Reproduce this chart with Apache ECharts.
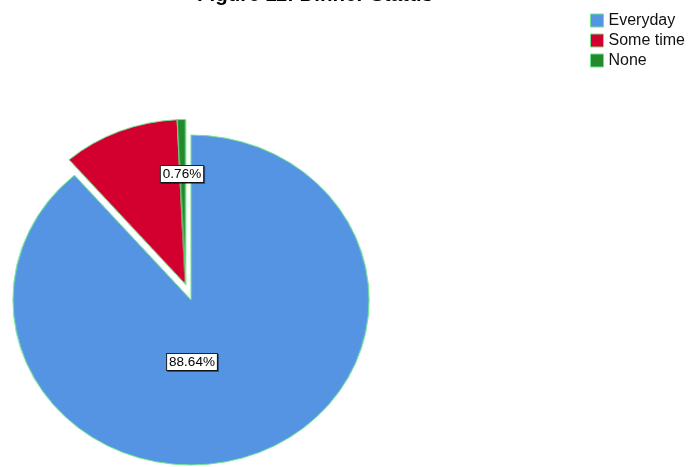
<!DOCTYPE html>
<html>
<head>
<meta charset="utf-8">
<title>Dinner Status</title>
<script src="https://cdn.jsdelivr.net/npm/echarts@6/dist/echarts.min.js"></script>
<style>
  html, body { margin: 0; padding: 0; background: #ffffff; }
  #wrap { position: relative; width: 694px; height: 467px; overflow: hidden; }
  #pie, #front { position: absolute; left: 0; top: 0; width: 694px; height: 467px; }
  /* the pie is drawn as an ellipse: stretch the slice layer horizontally about its centre */
  #pie { transform-origin: 191px 300px; transform: scaleX(1.079); }
  #front { pointer-events: none; }
</style>
</head>
<body>
<div id="wrap">
  <div id="pie"></div>
  <div id="front"></div>
</div>
<script>
// Dinner status shares (percent)
const categories = ['Everyday', 'Some time', 'None'];
const shares = [88.64, 10.60, 0.76];
// which slices carry a value label
const showLabel = [true, false, true];
// slices pulled out of the pie (drawn as one group)
const exploded = [false, true, true];

const colors = ['#5594e3', '#d3002f', '#238a2c'];
const edge = '#6ee38e';
const FONT = 'Liberation Sans, Arial, sans-serif';
const CX = 191, CY = 300, R = 165;
const EXPLODE_DX = -5, EXPLODE_DY = -15.5;
// label anchor points (centre of each value box)
const labelAnchor = { 'Everyday': [192, 362], 'None': [182, 174] };

const hidden = { color: 'rgba(0,0,0,0)', borderWidth: 0 };

function sliceData(pulled) {
  return categories.map((name, i) => ({
    name: name,
    value: shares[i],
    itemStyle: exploded[i] === pulled
      ? { color: colors[i], borderColor: edge, borderWidth: 1 }
      : hidden
  }));
}

const basePie = {
  type: 'pie',
  radius: R,
  startAngle: 90,
  clockwise: true,
  silent: true,
  label: { show: false },
  labelLine: { show: false },
  emphasis: { disabled: true }
};

const pieChart = echarts.init(document.getElementById('pie'), null, { renderer: 'canvas' });
pieChart.setOption({
  animation: false,
  series: [
    Object.assign({}, basePie, { center: [CX, CY], data: sliceData(false) }),
    Object.assign({}, basePie, { center: [CX + EXPLODE_DX, CY + EXPLODE_DY], data: sliceData(true) })
  ]
});

const frontChart = echarts.init(document.getElementById('front'), null, { renderer: 'canvas' });
frontChart.setOption({
  animation: false,
  title: {
    text: 'Figure 11: Dinner Status',
    left: 197,
    top: -15,
    padding: 0,
    textStyle: { fontFamily: FONT, fontSize: 20.5, fontWeight: 'bold', color: '#000', lineHeight: 20 }
  },
  legend: {
    orient: 'vertical',
    left: 590,
    top: 12.5,
    padding: 0,
    itemWidth: 13,
    itemHeight: 13,
    itemGap: 4,
    itemTextGap: 6,
    icon: 'rect',
    selectedMode: false,
    textStyle: { fontFamily: FONT, fontSize: 16, lineHeight: 16, color: '#111' },
    data: categories.map((name, i) => ({
      name: name,
      itemStyle: { color: colors[i], borderColor: edge, borderWidth: 1 }
    }))
  },
  series: [{
    type: 'pie',
    radius: R,
    center: [CX, CY],
    startAngle: 90,
    clockwise: true,
    silent: true,
    itemStyle: hidden,
    emphasis: { disabled: true },
    labelLine: { show: false },
    data: categories.map((name, i) => ({
      name: name,
      value: shares[i],
      label: { show: showLabel[i] }
    })),
    label: {
      position: 'inside',
      formatter: p => p.value.toFixed(2) + '%',
      fontFamily: FONT,
      fontSize: 13.5,
      lineHeight: 14,
      color: '#000',
      backgroundColor: '#ffffff',
      borderColor: '#222',
      borderWidth: 1,
      padding: [1, 2, 1, 2],
      shadowColor: 'rgba(0,0,0,0.45)',
      shadowOffsetX: 1,
      shadowOffsetY: 1,
      shadowBlur: 0
    },
    labelLayout: params => {
      const name = categories[params.dataIndex];
      const a = labelAnchor[name];
      if (!a) return {};
      return { x: a[0], y: a[1], align: 'center', verticalAlign: 'middle' };
    }
  }]
});
</script>
</body>
</html>
